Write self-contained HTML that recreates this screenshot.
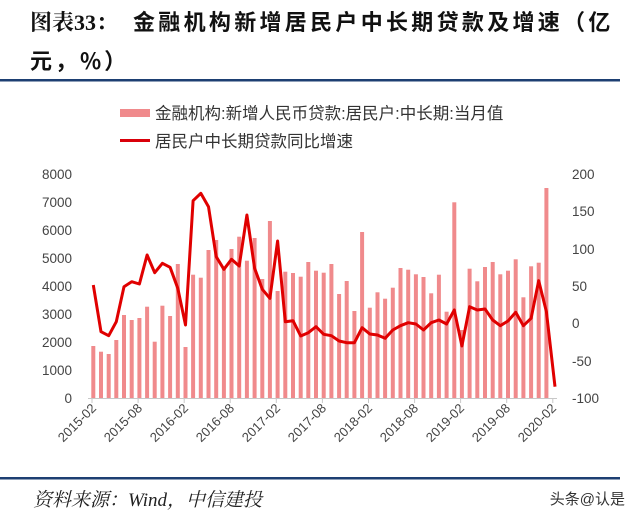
<!DOCTYPE html>
<html><head><meta charset="utf-8"><style>
html,body{margin:0;padding:0;background:#fff;}
body{width:640px;height:521px;overflow:hidden;position:relative;font-family:"Liberation Sans","Noto Sans CJK SC",sans-serif;}
</style></head><body>
<svg width="640" height="521" xmlns="http://www.w3.org/2000/svg" style="position:absolute;left:0;top:0">
<text x="30" y="30" font-family="'Liberation Serif','Noto Serif CJK SC',serif" font-weight="bold" font-size="22" fill="#111">图表33：</text>
<text x="133" y="30" font-family="'Noto Sans CJK SC',sans-serif" font-weight="bold" font-size="22" letter-spacing="3.3" fill="#111">金融机构新增居民户中长期贷款及增速（亿</text>
<text x="30" y="69" font-family="'Noto Sans CJK SC',sans-serif" font-weight="bold" font-size="22" letter-spacing="3" fill="#111">元，%）</text>
<rect x="0" y="79" width="620" height="2.5" fill="#1d3f72"/>
<rect x="120" y="109" width="30" height="8" fill="#f08a8c"/>
<text x="155" y="119" font-size="16.5" fill="#333" font-family="'Liberation Sans','Noto Sans CJK SC',sans-serif">金融机构:新增人民币贷款:居民户:中长期:当月值</text>
<rect x="120" y="139" width="30" height="3" fill="#d9000a"/>
<text x="155" y="147" font-size="16.5" fill="#333" font-family="'Liberation Sans','Noto Sans CJK SC',sans-serif">居民户中长期贷款同比增速</text>
<g font-size="13.5" fill="#444" text-anchor="end">
<text x="72" y="403">0</text><text x="72" y="375">1000</text><text x="72" y="347">2000</text><text x="72" y="319">3000</text><text x="72" y="291">4000</text><text x="72" y="263">5000</text><text x="72" y="235">6000</text><text x="72" y="207">7000</text><text x="72" y="179">8000</text>
</g>
<g font-size="13.5" fill="#444">
<text x="572" y="179">200</text><text x="572" y="216">150</text><text x="572" y="254">100</text><text x="572" y="291">50</text><text x="572" y="328">0</text><text x="572" y="366">-50</text><text x="572" y="403">-100</text>
</g>
<g fill="#f08a8c">
<rect x="91.3" y="346" width="4" height="52"/><rect x="99" y="351.7" width="4" height="46.3"/><rect x="106.7" y="354" width="4" height="44"/><rect x="114.3" y="340" width="4" height="58"/><rect x="122" y="315" width="4" height="83"/><rect x="129.7" y="320" width="4" height="78"/><rect x="137.4" y="318" width="4" height="80"/><rect x="145.1" y="306.7" width="4" height="91.3"/><rect x="152.7" y="341.7" width="4" height="56.3"/><rect x="160.4" y="305.7" width="4" height="92.3"/><rect x="168.1" y="316" width="4" height="82"/><rect x="175.8" y="264" width="4" height="134"/><rect x="183.5" y="347" width="4" height="51"/><rect x="191.1" y="274.7" width="4" height="123.3"/><rect x="198.8" y="277.7" width="4" height="120.3"/><rect x="206.5" y="250" width="4" height="148"/><rect x="214.2" y="240" width="4" height="158"/><rect x="221.9" y="266.7" width="4" height="131.3"/><rect x="229.5" y="249" width="4" height="149"/><rect x="237.2" y="236.7" width="4" height="161.3"/><rect x="244.9" y="260.7" width="4" height="137.3"/><rect x="252.6" y="238" width="4" height="160"/><rect x="260.3" y="279" width="4" height="119"/><rect x="267.9" y="221" width="4" height="177"/><rect x="275.6" y="291" width="4" height="107"/><rect x="283.3" y="271.7" width="4" height="126.3"/><rect x="291" y="273" width="4" height="125"/><rect x="298.7" y="276.7" width="4" height="121.3"/><rect x="306.3" y="262" width="4" height="136"/><rect x="314" y="270.7" width="4" height="127.3"/><rect x="321.7" y="272.7" width="4" height="125.3"/><rect x="329.4" y="264" width="4" height="134"/><rect x="337.1" y="294" width="4" height="104"/><rect x="344.7" y="281" width="4" height="117"/><rect x="352.4" y="311" width="4" height="87"/><rect x="360.1" y="232" width="4" height="166"/><rect x="367.8" y="307.7" width="4" height="90.3"/><rect x="375.5" y="292.3" width="4" height="105.7"/><rect x="383.1" y="298.7" width="4" height="99.3"/><rect x="390.8" y="287.7" width="4" height="110.3"/><rect x="398.5" y="268" width="4" height="130"/><rect x="406.2" y="269.7" width="4" height="128.3"/><rect x="413.9" y="274.3" width="4" height="123.7"/><rect x="421.5" y="277" width="4" height="121"/><rect x="429.2" y="293.3" width="4" height="104.7"/><rect x="436.9" y="274.7" width="4" height="123.3"/><rect x="444.6" y="311.7" width="4" height="86.3"/><rect x="452.3" y="202.3" width="4" height="195.7"/><rect x="459.9" y="330" width="4" height="68"/><rect x="467.6" y="268.7" width="4" height="129.3"/><rect x="475.3" y="281.3" width="4" height="116.7"/><rect x="483" y="267" width="4" height="131"/><rect x="490.7" y="262" width="4" height="136"/><rect x="498.3" y="274.3" width="4" height="123.7"/><rect x="506" y="270.7" width="4" height="127.3"/><rect x="513.7" y="259.3" width="4" height="138.7"/><rect x="521.4" y="297.3" width="4" height="100.7"/><rect x="529.1" y="266.3" width="4" height="131.7"/><rect x="536.7" y="262.7" width="4" height="135.3"/><rect x="544.4" y="188" width="4" height="210"/>
</g>
<line x1="88" y1="398.5" x2="557" y2="398.5" stroke="#c8c8c8" stroke-width="1"/>
<g stroke="#c8c8c8" stroke-width="1">
<line x1="92" y1="398" x2="92" y2="403"/><line x1="138.1" y1="398" x2="138.1" y2="403"/><line x1="184.2" y1="398" x2="184.2" y2="403"/><line x1="230.2" y1="398" x2="230.2" y2="403"/><line x1="276.3" y1="398" x2="276.3" y2="403"/><line x1="322.4" y1="398" x2="322.4" y2="403"/><line x1="368.5" y1="398" x2="368.5" y2="403"/><line x1="414.6" y1="398" x2="414.6" y2="403"/><line x1="460.6" y1="398" x2="460.6" y2="403"/><line x1="506.7" y1="398" x2="506.7" y2="403"/><line x1="552.8" y1="398" x2="552.8" y2="403"/>
</g>
<polyline fill="none" stroke="#e00000" stroke-width="3" stroke-linejoin="round" points="93.3,285 101,331.7 108.7,335.7 116.3,321.7 124,286.7 131.7,281.7 139.4,284 147.1,255 154.7,272.7 162.4,263.3 170.1,267.3 177.8,288.3 185.5,325 193.1,200.7 200.8,193.3 208.5,206.7 216.2,256.7 223.9,269.3 231.5,259.3 239.2,266 246.9,215 254.6,268.3 262.3,289.3 269.9,298.3 277.6,241 285.3,321.7 293,320.7 300.7,336 308.3,332.7 316,326.7 323.7,334.3 331.4,335.7 339.1,341 346.7,342.7 354.4,342.7 362.1,327.7 369.8,334 377.5,335 385.1,338.3 392.8,330 400.5,325.7 408.2,322.7 415.9,324 423.5,330 431.2,322.7 438.9,320 446.6,324 454.3,310 461.9,346 469.6,306.7 477.3,310 485,309 492.7,320 500.3,325.7 508,321 515.7,312.3 523.4,325.7 531.1,318.3 538.7,280.7 546.4,311.7 555,386.7"/>
<g font-size="13" fill="#444" text-anchor="end">
<text transform="translate(97,409) rotate(-45)">2015-02</text>
<text transform="translate(143,409) rotate(-45)">2015-08</text>
<text transform="translate(189,409) rotate(-45)">2016-02</text>
<text transform="translate(235,409) rotate(-45)">2016-08</text>
<text transform="translate(281,409) rotate(-45)">2017-02</text>
<text transform="translate(327,409) rotate(-45)">2017-08</text>
<text transform="translate(373,409) rotate(-45)">2018-02</text>
<text transform="translate(419,409) rotate(-45)">2018-08</text>
<text transform="translate(465,409) rotate(-45)">2019-02</text>
<text transform="translate(511,409) rotate(-45)">2019-08</text>
<text transform="translate(557,409) rotate(-45)">2020-02</text>
</g>
<rect x="0" y="477" width="620" height="2.5" fill="#1d3f72"/>
<text x="33" y="506" font-size="19" font-style="italic" fill="#222" font-family="'Liberation Serif','Noto Serif CJK SC',serif">资料来源：Wind，中信建投</text>
<text x="625" y="504" font-size="15" fill="#333" text-anchor="end" font-family="'Liberation Sans','Noto Sans CJK SC',sans-serif">头条@认是</text>
</svg>
</body></html>
